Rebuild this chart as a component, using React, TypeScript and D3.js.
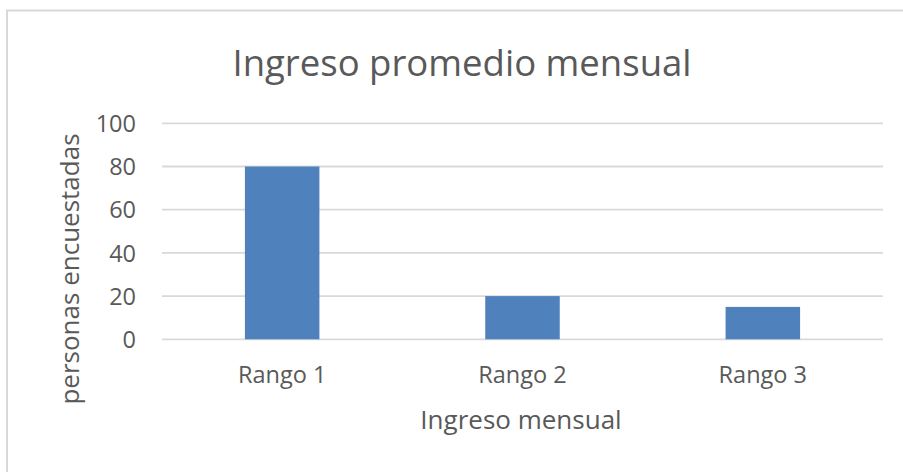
import React from "react";
import * as d3 from "d3";

const categories = ["Rango 1", "Rango 2", "Rango 3"];
const values = [80, 20, 15];
const yTicks = [0, 20, 40, 60, 80, 100];
const title = "Ingreso promedio mensual";
const xTitle = "Ingreso mensual";
const yTitle = "personas encuestadas";

const W = 903;
const H = 472;
const FONT = "'Open Sans', sans-serif";
const TXT = "#595959";

export default function App() {
  const x = d3.scaleBand<string>().domain(categories).range([162, 883]).padding(0);
  const y = d3.scaleLinear().domain([0, 100]).range([339.3, 123.3]);
  const bw = x.bandwidth() * 0.31;

  return (
    <svg
      width={W}
      height={H}
      style={{ position: "absolute", left: 0, top: 0, background: "#fff" }}
      fontFamily={FONT}
    >
      <rect x={0} y={0} width={W} height={H} fill="#fff" />
      <rect x={7} y={10.5} width={2000} height={2000} fill="none" stroke="#d9d9d9" strokeWidth={2} />
      <text x={462} y={76} textAnchor="middle" fontSize={36.5} fill={TXT}>
        {title}
      </text>
      {yTicks.map((t) => (
        <g key={t}>
          <line x1={162} x2={883} y1={y(t)} y2={y(t)} stroke="#d9d9d9" strokeWidth={1.8} />
          <text x={136} y={y(t) + 8.6} textAnchor="end" fontSize={23.5} fill={TXT}>
            {t}
          </text>
        </g>
      ))}
      {categories.map((c, i) => {
        const cx = (x(c) as number) + x.bandwidth() / 2;
        return (
          <g key={c}>
            <rect x={cx - bw / 2} y={y(values[i])} width={bw} height={y(0) - y(values[i])} fill="#4f81bd" />
            <text x={cx} y={383} textAnchor="middle" fontSize={23.5} fill={TXT}>
              {c}
            </text>
          </g>
        );
      })}
      <text x={521} y={429} textAnchor="middle" fontSize={26} fill={TXT}>
        {xTitle}
      </text>
      <text
        transform={`translate(79,269) rotate(-90)`}
        textAnchor="middle"
        fontSize={26}
        fill={TXT}
      >
        {yTitle}
      </text>
    </svg>
  );
}
